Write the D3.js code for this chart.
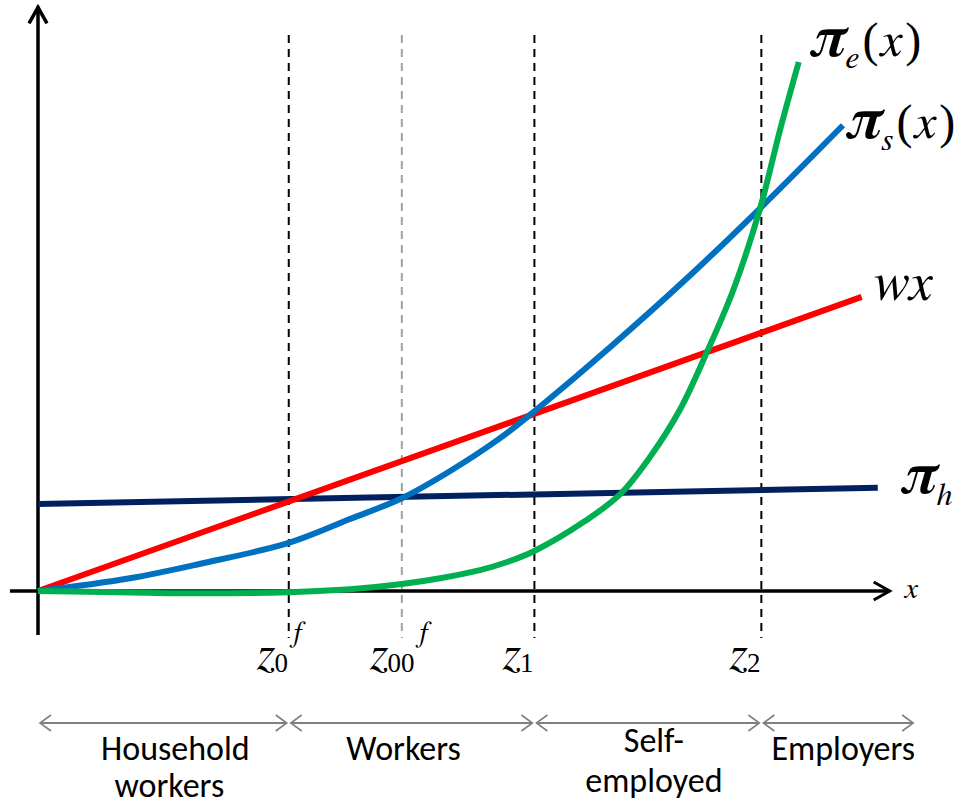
<!DOCTYPE html>
<html>
<head>
<meta charset="utf-8">
<script src="https://cdn.jsdelivr.net/npm/d3@7/dist/d3.min.js"></script>
<style>
  body { margin: 0; background: #fff; }
  svg { display: block; }
</style>
</head>
<body>
<div id="plot"></div>
<script>
'use strict';

// income curves (x, y in arbitrary units 0..100)
const wxX = [0, 96.9];
const wxY = [0, 50.7];
const piHX = [0, 98.8];
const piHY = [15.0, 17.8];
const piSX = [0, 10.8, 19.1, 29.5, 36.7, 42.8, 48.5, 54.4, 58.4, 67.5, 76.7, 85.1, 94.7];
const piSY = [0, 2.2, 4.7, 8.3, 12.4, 16.0, 20.7, 26.4, 31.0, 42.3, 54.4, 66.2, 80.3];
const piEX = [0, 9.6, 19.1, 29.5, 36.7, 42.8, 47.3, 52.0, 55.2, 58.4, 64.4, 68.5, 72.0, 75.5, 78.7, 81.8, 84.9, 87.3, 89.5];
const piEY = [0, -0.2, -0.4, -0.2, 0.3, 1.2, 2.2, 3.6, 5.0, 6.9, 12.1, 16.7, 23.1, 31.2, 41.2, 51.9, 65.7, 79.5, 91.2];

// thresholds on the x axis
const zPos = [29.5, 42.8, 58.4, 85.1];
const zSub = ['0', '00', '1', '2'];
const zSup = ['f', 'f', '', ''];

// occupational groups between the thresholds
const groupEdges = [0, 29.5, 58.4, 85.1, 103.2];
const groupNames = [['Household', 'workers'], ['Workers'], ['Self-', 'employed'], ['Employers']];

const width = 966;
const height = 808;

const svg = d3.select('#plot').append('svg')
  .attr('width', width)
  .attr('height', height);

const x = d3.scaleLinear().domain([0, 100]).range([38, 888]);
const y = d3.scaleLinear().domain([0, 100]).range([591, 11]);

const serif = "'Liberation Serif', 'Times New Roman', serif";
const ital = "FreeSerif, 'Liberation Serif', serif";

// vertical dashed guides
svg.append('g')
  .selectAll('line')
  .data(zPos)
  .enter()
  .append('line')
  .attr('x1', d => x(d))
  .attr('x2', d => x(d))
  .attr('y1', 35)
  .attr('y2', 638)
  .attr('stroke', (d, i) => i == 1 ? '#a0a0a0' : '#000')
  .attr('stroke-width', 2)
  .attr('stroke-dasharray', '8,6');

// axes
svg.append('line')
  .attr('x1', x(0)).attr('x2', x(0))
  .attr('y1', y(-7.6)).attr('y2', y(100.8))
  .attr('stroke', '#000').attr('stroke-width', 3.5);
svg.append('path')
  .attr('d', `M${x(0) - 9},${y(100.8) + 17} L${x(0)},${y(100.8) + 1} L${x(0) + 9},${y(100.8) + 17}`)
  .attr('fill', 'none').attr('stroke', '#000').attr('stroke-width', 3.5);
svg.append('line')
  .attr('x1', x(-3.3)).attr('x2', x(100.2))
  .attr('y1', y(0)).attr('y2', y(0))
  .attr('stroke', '#000').attr('stroke-width', 3.5);
svg.append('path')
  .attr('d', `M${x(100.2) - 16},${y(0) - 9} L${x(100.2)},${y(0)} L${x(100.2) - 16},${y(0) + 9}`)
  .attr('fill', 'none').attr('stroke', '#000').attr('stroke-width', 3);

// curves
let drawCurve = function(xs, ys, color, curve) {
  let pts = xs.map((d, i) => [d, ys[i]]);
  let line = d3.line()
    .x(d => x(d[0]))
    .y(d => y(d[1]))
    .curve(curve);
  svg.append('path')
    .attr('d', line(pts))
    .attr('fill', 'none')
    .attr('stroke', color)
    .attr('stroke-width', 6);
}
drawCurve(piHX, piHY, '#002060', d3.curveLinear);
drawCurve(wxX, wxY, '#ff0000', d3.curveLinear);
drawCurve(piSX, piSY, '#0070c0', d3.curveCatmullRom.alpha(0.5));
drawCurve(piEX, piEY, '#00b050', d3.curveCatmullRom.alpha(0.5));

// curve labels
let piLabel = function(px, py, sub, withArg) {
  let t = svg.append('text')
    .attr('x', px).attr('y', py)
    .attr('fill', '#000');
  t.append('tspan')
    .attr('font-family', ital)
    .attr('font-size', 58).attr('font-style', 'italic').attr('font-weight', 'bold')
    .text('π');
  t.append('tspan')
    .attr('font-family', ital)
    .attr('font-size', 32).attr('font-style', 'italic').attr('dy', 12)
    .text(sub);
  if (withArg) {
    t.append('tspan').attr('font-family', serif).attr('font-size', 48).attr('dy', -12).attr('dx', 4).text('(');
    t.append('tspan').attr('font-family', ital).attr('font-size', 50).attr('font-style', 'italic').attr('dx', 2).text('x');
    t.append('tspan').attr('font-family', serif).attr('font-size', 48).attr('dx', 3).text(')');
  }
}
piLabel(810, 56, 'e', true);
piLabel(846, 138, 's', true);
piLabel(901, 493, 'h', false);

svg.append('text')
  .attr('x', 872).attr('y', 300)
  .attr('font-family', ital).attr('font-style', 'italic')
  .attr('font-size', 54)
  .text('wx');

svg.append('text')
  .attr('x', x(100.2) + 15).attr('y', y(0) + 7)
  .attr('font-family', ital).attr('font-style', 'italic')
  .attr('font-size', 30)
  .text('x');

// threshold labels
const zg = svg.append('g')
  .selectAll('g')
  .data(zPos)
  .enter()
  .append('g');
zg.append('text')
  .attr('x', d => x(d) - 32)
  .attr('y', 669)
  .each(function(d, i) {
    let t = d3.select(this);
    t.append('tspan').attr('font-family', ital).attr('font-size', 48).attr('font-style', 'italic').text('z');
    t.append('tspan').attr('font-family', serif).attr('font-size', 27).attr('dy', 3).attr('dx', -1).text(zSub[i]);
  });
zg.append('text')
  .attr('x', (d, i) => x(d) + (i == 1 ? 16 : 3))
  .attr('y', 642)
  .attr('font-family', ital).attr('font-style', 'italic')
  .attr('font-size', 28)
  .text((d, i) => zSup[i]);

// group arrows and names
const grey = '#808080';
const ay = 723;
for (let i = 0; i < groupNames.length; i++) {
  let a = x(groupEdges[i]) + 2;
  let b = x(groupEdges[i + 1]) - 2;
  svg.append('line')
    .attr('x1', a).attr('x2', b)
    .attr('y1', ay).attr('y2', ay)
    .attr('stroke', grey).attr('stroke-width', 2);
  svg.append('path')
    .attr('d', `M${a + 11},${ay - 8} L${a},${ay} L${a + 11},${ay + 8} M${b - 11},${ay - 8} L${b},${ay} L${b - 11},${ay + 8}`)
    .attr('fill', 'none').attr('stroke', grey).attr('stroke-width', 1.6);
  let cx = (x(groupEdges[i]) + x(groupEdges[i + 1])) / 2 + [12, -8, 6, 5][i];
  let lines = groupNames[i];
  let y0 = lines[0] == 'Self-' ? 752 : 760;
  let gap = lines[0] == 'Self-' ? 40 : 37;
  lines.forEach(function(s, j) {
    svg.append('text')
      .attr('x', cx - (j == 1 && i == 0 ? 6 : 0)).attr('y', y0 + j * gap)
      .attr('text-anchor', 'middle')
      .attr('font-family', "Carlito, Lato, sans-serif")
      .attr('font-size', 34)
      .attr('fill', '#000')
      .text(s);
  });
}
</script>
</body>
</html>
